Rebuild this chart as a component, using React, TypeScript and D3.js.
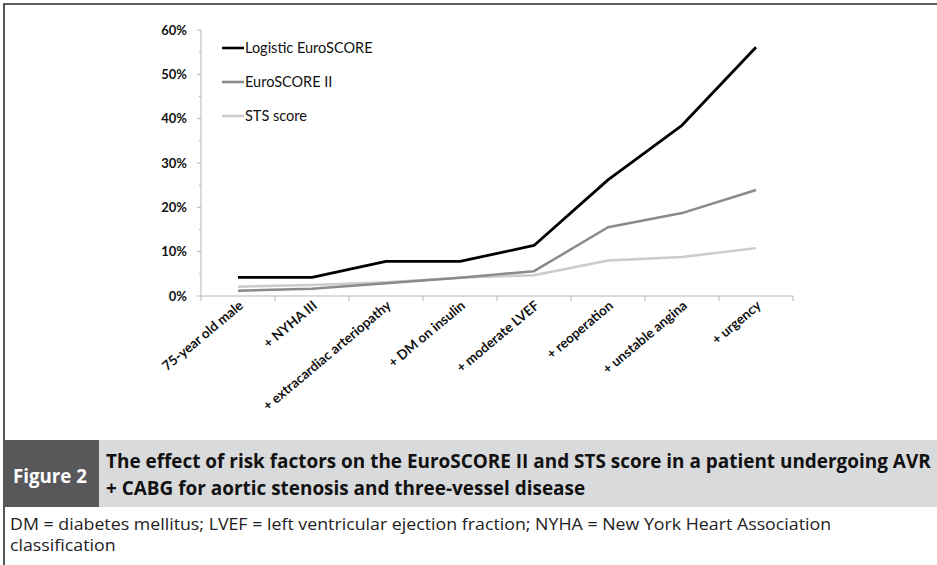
import React, { useLayoutEffect, useRef, useState } from "react";
import * as d3 from "d3";

const categories = [
  "75-year old male",
  "+ NYHA III",
  "+ extracardiac arteriopathy",
  "+ DM on insulin",
  "+ moderate LVEF",
  "+ reoperation",
  "+ unstable angina",
  "+ urgency",
];
const logisticEuro = [4.2, 4.2, 7.8, 7.8, 11.4, 26.2, 38.5, 56.1];
const euroII = [1.2, 1.65, 2.9, 4.1, 5.6, 15.5, 18.7, 23.9];
const stsScore = [2.1, 2.5, 3.1, 4.1, 4.7, 8.0, 8.8, 10.8];
const yTicks = [0, 10, 20, 30, 40, 50, 60];
const yMinorTicks = [5, 15, 25, 35, 45, 55];

const seriesNames = ["Logistic EuroSCORE", "EuroSCORE II", "STS score"];
const seriesColors = ["#000000", "#8a8a8a", "#cbcbcb"];
const seriesValues = [logisticEuro, euroII, stsScore];

const figureLabel = "Figure 2";
const captionLine1 =
  "The effect of risk factors on the EuroSCORE II and STS score in a patient undergoing AVR";
const captionLine2 = "+ CABG for aortic stenosis and three-vessel disease";
const noteLine1 =
  "DM = diabetes mellitus; LVEF = left ventricular ejection fraction; NYHA = New York Heart Association";
const noteLine2 = "classification";

export default function App() {
  const W = 937;
  const H = 565;
  const x = d3.scaleBand<string>().domain(categories).range([201, 793]);
  const y = d3.scaleLinear().domain([0, 60]).range([296, 30]);
  const line = d3
    .line<number>()
    .x((_, i) => (x(categories[i]) as number) + x.bandwidth() / 2)
    .y((d) => y(d));

  const axisColor = "#b5b5b5";
  const chartFont = "Lato, 'Open Sans', sans-serif";
  const capFont = "'Open Sans', Lato, sans-serif";

  const boundaries = categories.map((c) => x(c) as number).concat([793]);

  const figRef = useRef<SVGTextElement>(null);
  const cap1 = useRef<SVGTextElement>(null);
  const n1 = useRef<SVGTextElement>(null);
  const [scales, setScales] = useState({ fig: 0.8, cap: 0.83, note: 0.95 });
  const FIG_LEN = 74;
  const CAP1_LEN = 824;
  const NOTE1_LEN = 821;

  useLayoutEffect(() => {
    if (figRef.current && cap1.current && n1.current) {
      setScales({
        fig: FIG_LEN / figRef.current.getComputedTextLength(),
        cap: CAP1_LEN / cap1.current.getComputedTextLength(),
        note: NOTE1_LEN / n1.current.getComputedTextLength(),
      });
    }
  }, []);

  return (
    <svg
      width={W}
      height={H}
      style={{ position: "absolute", left: 0, top: 0, background: "#fff" }}
    >
      <rect x={0} y={0} width={W} height={H} fill="#fff" />
      {/* frame */}
      <path d={`M4,${H} V4 H${W}`} fill="none" stroke="#2b2b2b" strokeWidth={1.6} />

      {/* y axis */}
      <line x1={201} x2={201} y1={y(60)} y2={y(0)} stroke={axisColor} strokeWidth={1} />
      {yTicks.map((t) => (
        <g key={"yt" + t}>
          <line x1={197} x2={201} y1={y(t)} y2={y(t)} stroke={axisColor} strokeWidth={1} />
          <text
            x={187}
            y={y(t)}
            dy="0.35em"
            textAnchor="end"
            fontFamily={chartFont}
            fontWeight="bold"
            fontSize={13}
            fill="#111"
          >
            {t}%
          </text>
        </g>
      ))}
      {yMinorTicks.map((t) => (
        <line key={"ym" + t} x1={199} x2={201} y1={y(t)} y2={y(t)} stroke={axisColor} strokeWidth={1} />
      ))}

      {/* x axis */}
      <line x1={201} x2={793} y1={y(0)} y2={y(0)} stroke={axisColor} strokeWidth={1} />
      {boundaries.map((b, i) => (
        <line key={"xt" + i} x1={b} x2={b} y1={y(0)} y2={y(0) + 5} stroke={axisColor} strokeWidth={1} />
      ))}
      {categories.map((c) => {
        const cx = (x(c) as number) + x.bandwidth() / 2;
        return (
          <text
            key={c}
            transform={`translate(${cx + 6},${307}) rotate(-40)`}
            textAnchor="end"
            fontFamily={chartFont}
            fontWeight="bold"
            fontSize={13.5}
            fill="#111"
          >
            {c}
          </text>
        );
      })}

      {/* series lines (draw light first) */}
      {[2, 1, 0].map((si) => (
        <path
          key={"s" + si}
          d={line(seriesValues[si]) || ""}
          fill="none"
          stroke={seriesColors[si]}
          strokeWidth={si === 0 ? 2.8 : 2.5}
          strokeLinejoin="round"
        />
      ))}

      {/* legend */}
      {seriesNames.map((n, i) => {
        const ly = 48 + i * 34;
        return (
          <g key={n}>
            <line x1={222} x2={244} y1={ly} y2={ly} stroke={seriesColors[i]} strokeWidth={2.6} />
            <text x={245} y={ly} dy="0.36em" fontFamily={chartFont} fontSize={14.5} fill="#111">
              {n}
            </text>
          </g>
        );
      })}

      {/* caption band */}
      <rect x={5} y={440} width={94} height={67} fill="#58585a" />
      <rect x={99} y={440} width={W - 99} height={67} fill="#d9dadc" />
      <text
        ref={figRef}
        transform={`translate(13,483) scale(${scales.fig},1)`}
        fontFamily={capFont}
        fontWeight="bold"
        fontSize={20}
        fill="#ffffff"
      >
        {figureLabel}
      </text>
      <text
        ref={cap1}
        transform={`translate(106,468) scale(${scales.cap},1)`}
        fontFamily={capFont}
        fontWeight="bold"
        fontSize={20}
        fill="#111"
      >
        {captionLine1}
      </text>
      <text
        transform={`translate(106,495) scale(${scales.cap},1)`}
        fontFamily={capFont}
        fontWeight="bold"
        fontSize={20}
        fill="#111"
      >
        {captionLine2}
      </text>
      <text
        ref={n1}
        transform={`translate(10,530) scale(${scales.note},1)`}
        fontFamily={capFont}
        fontSize={16.5}
        fill="#222"
      >
        {noteLine1}
      </text>
      <text
        transform={`translate(10,551) scale(${scales.note},1)`}
        fontFamily={capFont}
        fontSize={16.5}
        fill="#222"
      >
        {noteLine2}
      </text>
    </svg>
  );
}
